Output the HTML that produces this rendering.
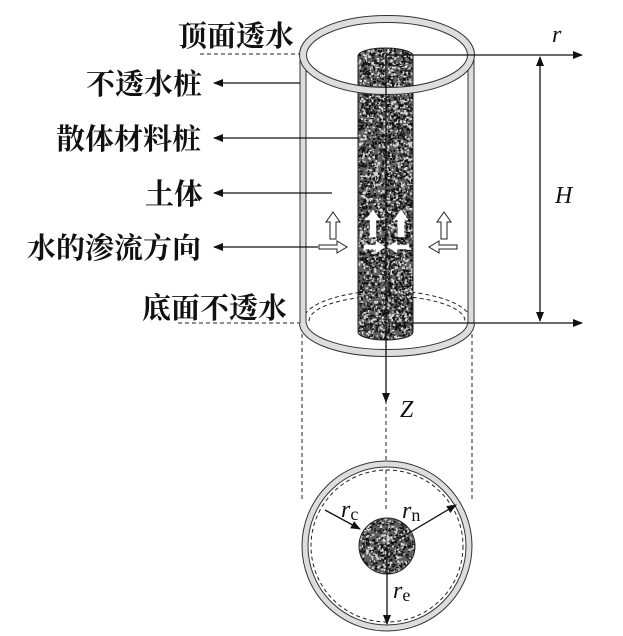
<!DOCTYPE html>
<html><head><meta charset="utf-8"><style>
html,body{margin:0;padding:0;background:#fff;}
svg{display:block;}
.t{font-family:"Noto Serif CJK SC","WenQuanYi Zen Hei",serif;font-size:29px;font-weight:bold;fill:#111;}
.i{font-family:"Liberation Serif",serif;font-style:italic;font-size:24px;fill:#111;}
</style></head><body>
<svg id="s" width="623" height="636" viewBox="0 0 623 636" xmlns="http://www.w3.org/2000/svg">
<defs>
<marker id="a" markerWidth="10" markerHeight="8" refX="9" refY="4" orient="auto" markerUnits="userSpaceOnUse"><path d="M0,0 L10,4 L0,8 z" fill="#111"/></marker>
<marker id="as" markerWidth="10" markerHeight="8" refX="1" refY="4" orient="auto" markerUnits="userSpaceOnUse"><path d="M10,0 L0,4 L10,8 z" fill="#111"/></marker>
<clipPath id="cp"><rect x="358" y="48" width="55" height="292" rx="27" ry="8"/></clipPath>
<clipPath id="cc"><circle cx="387" cy="546" r="28"/></clipPath>
</defs>

<text class="t" x="178" y="46">顶面透水</text>
<text class="t" x="86" y="94">不透水桩</text>
<text class="t" x="56" y="149">散体材料桩</text>
<text class="t" x="145" y="204">土体</text>
<text class="t" x="27" y="258">水的渗流方向</text>
<text class="t" x="142" y="318">底面不透水</text>

<g stroke="#222" stroke-width="1" stroke-dasharray="4,3" fill="none">
<line x1="200" y1="54" x2="300" y2="54"/>
<line x1="178" y1="323" x2="300" y2="323"/>
<line x1="302" y1="54" x2="302" y2="500"/>
<line x1="472" y1="54" x2="472" y2="500"/>
<line x1="386" y1="400" x2="386" y2="510"/>
<path d="M303,321 A84,30 0 0 1 471,321"/>
<path d="M309,321 A78,25 0 0 1 465,321"/>
</g>

<rect x="300" y="55" width="6" height="270" fill="#ddd" stroke="#333" stroke-width="1"/>
<rect x="468" y="55" width="6" height="270" fill="#ddd" stroke="#333" stroke-width="1"/>
<path d="M303,323 A84,30 0 0 0 471,323" fill="none" stroke="#333" stroke-width="8"/>
<path d="M303,323 A84,30 0 0 0 471,323" fill="none" stroke="#ddd" stroke-width="6"/>

<rect x="358" y="48" width="55" height="292" rx="27" ry="8" fill="#606060"/>
<g id="pd" clip-path="url(#cp)"></g>
<rect x="358" y="48" width="55" height="292" rx="27" ry="8" fill="none" stroke="#222"/>

<ellipse cx="387" cy="55" rx="84" ry="36" fill="none" stroke="#333" stroke-width="8"/>
<ellipse cx="387" cy="55" rx="84" ry="36" fill="none" stroke="#ddd" stroke-width="6"/>

<g stroke="#111" stroke-width="1.3">
<line x1="300" y1="83" x2="214" y2="83" marker-end="url(#a)"/>
<line x1="358" y1="138" x2="214" y2="138" marker-end="url(#a)"/>
<line x1="332" y1="193" x2="214" y2="193" marker-end="url(#a)"/>
<line x1="318" y1="247" x2="214" y2="247" marker-end="url(#a)"/>
<line x1="386" y1="55" x2="582" y2="55" marker-end="url(#a)"/>
<line x1="386" y1="323" x2="582" y2="323" marker-end="url(#a)"/>
<line x1="540" y1="57" x2="540" y2="321" marker-end="url(#a)" marker-start="url(#as)"/>
<line x1="386" y1="55" x2="386" y2="402" marker-end="url(#a)"/>
</g>
<text class="i" x="552" y="42">r</text>
<text class="i" x="555" y="203">H</text>
<text class="i" x="400" y="417">Z</text>

<g fill="#fff" stroke="#222" stroke-width="1">
<path d="M330,239 v-17 h-4 l7,-10 l7,10 h-4 v17 z"/>
<path d="M441,239 v-17 h-4 l7,-10 l7,10 h-4 v17 z"/>
<path d="M319,245 h18 v-4 l10,6 l-10,6 v-4 h-18 z"/>
<path d="M457,245 h-18 v-4 l-10,6 l10,6 v-4 h18 z"/>
</g>
<g fill="#fff" stroke="#fff" stroke-width="0.5">
<path d="M370,237 v-17 h-4 l7,-10 l7,10 h-4 v17 z"/>
<path d="M398,237 v-17 h-4 l7,-10 l7,10 h-4 v17 z"/>
<path d="M364,245 h12 v-4 l9,6 l-9,6 v-4 h-12 z"/>
<path d="M409,245 h-12 v-4 l-9,6 l9,6 v-4 h12 z"/>
</g>

<circle cx="387" cy="546" r="82" fill="none" stroke="#333" stroke-width="7"/>
<circle cx="387" cy="546" r="82" fill="none" stroke="#ddd" stroke-width="5"/>
<circle cx="387" cy="546" r="76" fill="none" stroke="#222" stroke-width="1" stroke-dasharray="4,3"/>
<circle cx="387" cy="546" r="28" fill="#606060"/>
<g id="cd" clip-path="url(#cc)"></g>
<circle cx="387" cy="546" r="28" fill="none" stroke="#222"/>
<g stroke="#111" stroke-width="1.3">
<line x1="325" y1="510" x2="360" y2="529" marker-end="url(#a)"/>
<line x1="387" y1="546" x2="456" y2="505" marker-end="url(#a)"/>
<line x1="387" y1="546" x2="387" y2="624" marker-end="url(#a)"/>
</g>
<text class="i" x="341" y="517">r<tspan font-style="normal" font-size="18" dy="3">c</tspan></text>
<text class="i" x="402" y="518">r<tspan font-style="normal" font-size="18" dy="3">n</tspan></text>
<text class="i" x="393" y="598">r<tspan font-style="normal" font-size="18" dy="3">e</tspan></text>
</svg>
<script>
(function(){
var seed=7;
function r(){seed=(seed*16807)%2147483647;return seed/2147483647;}
function fill(id,x,y,w,h,n){var g=document.getElementById(id);var s="";
for(var i=0;i<n;i++){var c=r()<0.6?"#111":"#d8d8d8";
s+='<rect x="'+(x+r()*w).toFixed(1)+'" y="'+(y+r()*h).toFixed(1)+'" width="'+(1+r()*1.6).toFixed(1)+'" height="'+(1+r()*1.6).toFixed(1)+'" fill="'+c+'"/>';}
g.innerHTML=s;}
fill("pd",358,48,55,292,4000);
fill("cd",359,518,56,56,700);
})();
</script>
</body></html>
